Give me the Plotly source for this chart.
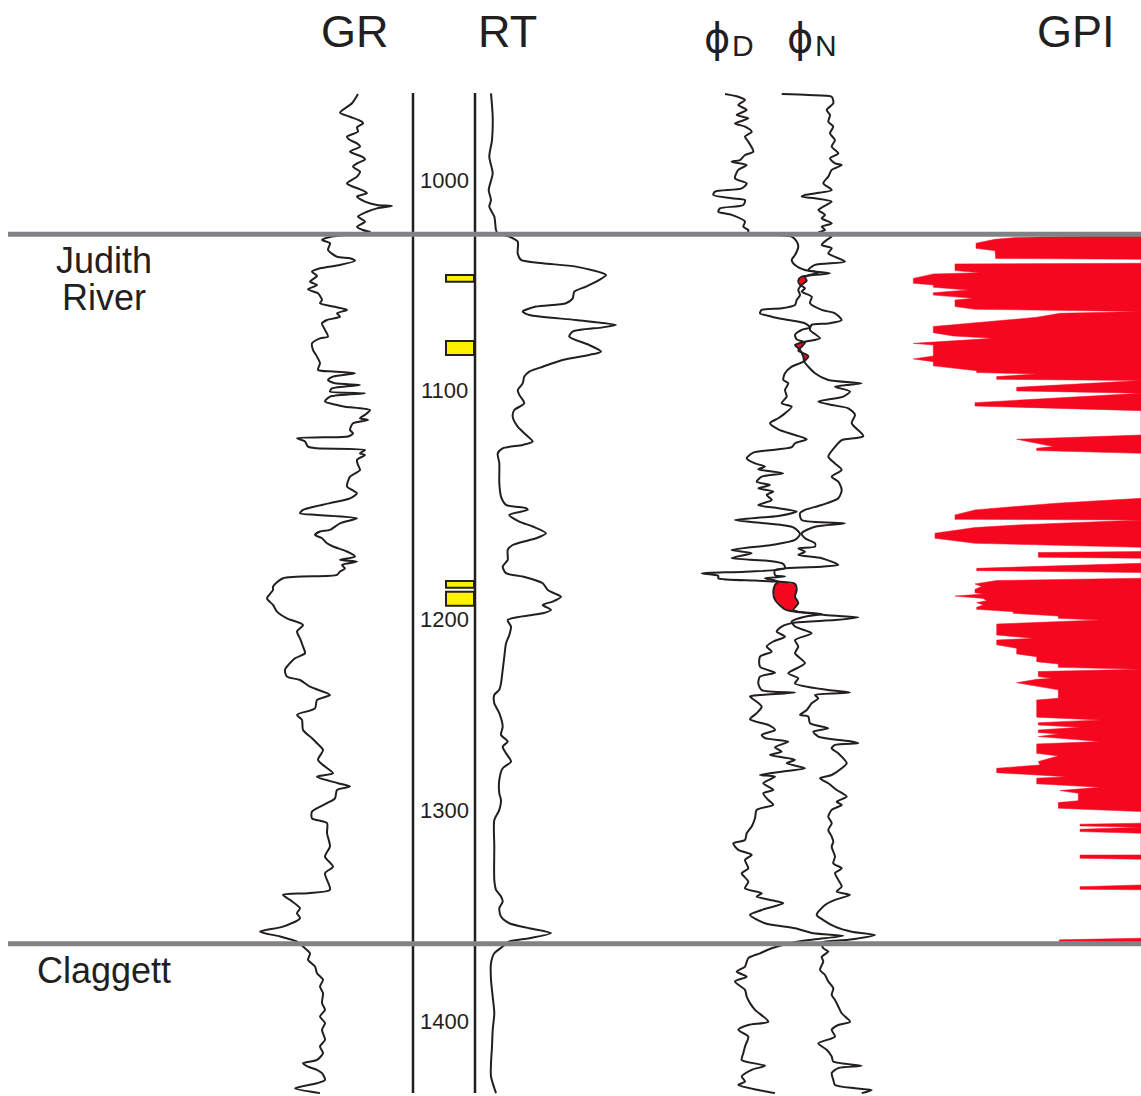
import numpy as np
import plotly.graph_objects as go

# ---------------- DATA ----------------
gr_depth = [959.1,963.5,968.0,969.9,972.3,973.1,975.0,977.0,979.4,981.0,982.6,984.1,986.5,988.9,990.2,992.1,993.7,996.0,998.4,1001.6,1003.2,1004.8,1006.3,1007.9,1010.3,1011.9,1012.4,1013.5,1015.1,1017.4,1019.8,1022.2,1023.8,1024.6,
 1026.9,1028.5,1030.1,1033.3,1036.5,1037.2,1038.4,1040.4,1042.0,1043.6,
 1045.6,1048.3,1049.9,1052.0,1053.9,1057.1,1058.6,1060.2,1061.8,1063.4,
 1065.0,1066.6,1068.2,1071.3,1074.5,1075.3,1077.7,1080.8,1084.0,1087.2,
 1090.3,1091.1,1091.9,1093.5,1095.1,1096.7,1097.5,1099.1,1100.6,1101.4,
 1103.0,1105.4,1107.0,1107.8,1109.4,1111.7,1113.3,1114.1,1115.7,1118.9,
 1120.5,1122.0,1122.4,1122.8,1124.4,1126.8,1127.6,1128.4,1130.0,1130.8,
 1133.1,1135.5,1137.9,1141.1,1145.8,1147.4,1149.0,1151.4,1153.7,1156.9,
 1158.5,1159.3,1160.9,1163.3,1166.4,1167.2,1168.8,1170.4,1172.8,1174.3,
 1176.7,1179.1,1180.7,1181.5,1183.1,1184.7,1186.2,1187.8,1189.4,1193.4,
 1195.0,1199.0,1202.1,1205.3,1208.5,1211.6,1214.8,1218.0,1221.9,1225.1,
 1227.5,1233.0,1236.2,1237.8,1241.0,1244.9,1247.3,1251.3,1254.4,1256.8,
 1261.6,1265.5,1267.9,1271.1,1275.8,1279.0,1282.2,1283.8,1286.9,1288.5,
 1290.1,1294.1,1296.4,1300.4,1303.6,1305.9,1310.7,1317.0,1321.8,1326.6,
 1329.7,1337.6,1339.2,1340.0,1342.4,1346.4,1348.7,1351.1,1355.1,1357.5,
 1359.8,1362.2,1364.6,1367.8,1370.9,1374.1,1377.3,1380.4,1383.6,1386.8,
 1391.5,1394.7,1397.9,1401.0,1404.2,1409.0,1412.1,1415.3,1418.5,1420.1,
 1421.7,1423.2,1424.8,1428.0,1429.6,1432.0,1434.3]
gr_api = [108,102,90,100,112,113,107,108,97,100,107,110,100,112,115,107,103,110,107,97,103,112,117,107,115,127,142,127,117,108,115,107,113,120,
 82,72,80,78,87,100,105,90,70,62,
 67,60,67,58,68,72,70,83,97,87,
 90,77,72,75,78,70,62,63,67,70,
 68,83,105,83,78,85,110,82,80,115,
 80,75,87,95,120,115,110,118,103,100,
 103,98,73,47,55,58,67,115,110,115,
 107,108,110,100,97,102,107,100,80,53,
 50,67,107,90,80,70,65,72,77,83,
 97,105,90,107,92,95,90,87,33,23,
 23,17,23,27,37,53,47,50,53,55,
 45,35,37,50,60,80,67,65,47,52,
 53,62,67,73,68,75,83,67,88,100,
 87,85,77,62,62,77,77,80,75,83,
 75,80,58,33,40,50,47,50,33,10,
 30,47,53,60,58,65,67,73,70,73,
 72,75,70,75,72,75,70,73,67,53,
 58,67,72,75,67,45,70]

rt_depth = [958.8,969.9,981.0,988.9,996.8,1004.8,1009.5,1012.7,1017.4,1023.8,
 1025.4,1026.9,1029.3,1034.9,1038.0,1039.6,1041.2,1045.2,1047.5,1050.7,
 1053.1,1056.3,1058.6,1060.2,1062.6,1064.2,1066.6,1068.9,1070.1,1072.1,
 1074.5,1078.5,1081.6,1083.2,1085.6,1088.8,1091.1,1093.5,1096.7,1099.9,
 1102.2,1106.2,1109.4,1112.5,1117.3,1121.2,1124.4,1126.0,1127.6,1130.0,
 1134.7,1144.2,1150.6,1154.5,1156.1,1156.9,1159.3,1162.5,1164.8,1168.0,
 1170.4,1173.6,1175.9,1180.7,1183.9,1187.0,1188.6,1191.8,1195.0,1196.6,
 1198.2,1200.5,1202.1,1204.5,1206.1,1209.3,1212.4,1216.4,1220.4,1226.7,
 1233.0,1239.4,1242.5,1244.9,1248.9,1253.6,1260.0,1263.9,1267.1,1269.5,
 1272.7,1276.6,1279.8,1285.3,1291.7,1294.9,1299.6,1304.4,1317.0,1332.9,
 1337.6,1340.8,1343.2,1346.4,1350.3,1353.5,1355.9,1358.2,1360.6,1362.2,
 1364.6,1367.8,1372.5,1380.4,1388.4,1396.3,1404.2,1412.1,1420.1,1426.4,
 1434.3]
rt_ohm = [15,16.7,16,13.3,16.7,12.7,15,13.3,18.3,20,
 21.7,33.3,41.7,41.7,45,66.7,100,130,123.3,110,
 98.3,96.7,90,60,46.7,53.3,100,140,126.7,96.7,
 93.3,113.3,125,113.3,86.7,66.7,53.3,48.3,46.7,41.7,
 43.3,48.3,38.3,36.7,41.7,50,56.7,46.7,26.7,21.7,
 23.3,23.3,25,30,50,51.7,33.3,43.3,56.7,70,
 60,36.7,31.7,31.7,26.7,30,46.7,66.7,71.7,78.3,
 85,76.7,66.7,75,66.7,31.7,35,33.3,30,28.3,
 26.7,25,23.3,18.3,18.3,23.3,26.7,25,31.7,26.7,
 30,35,26.7,23.3,23.3,25,23.3,18.3,18.3,18.3,
 20,25,26.7,23.3,25,33.3,53.3,75,53.3,33.3,
 26.7,18.3,15,15,16.7,18.3,16.7,16,15,15,
 20]

phid_depth = [959.1,960.4,962.0,964.3,966.7,969.1,970.7,973.1,974.6,977.0,
 979.4,981.8,986.5,988.1,990.5,991.3,992.9,995.2,999.2,1001.6,
 1004.0,1005.5,1007.1,1008.7,1009.5,1011.9,1013.5,1015.1,1016.6,1019.8,
 1022.2,1023.8,1025.0,
 1026.9,1029.3,1031.7,1035.7,1038.0,1040.4,1042.8,1044.1,1046.0,1047.9,
 1049.9,1052.3,1054.7,1057.1,1059.4,1061.0,1061.8,1063.4,1065.0,1066.6,
 1068.2,1070.1,1071.3,1073.7,1075.8,1077.3,1079.2,1081.1,1083.7,1086.4,
 1088.8,1091.9,1095.1,1096.7,1099.9,1103.0,1106.2,1107.8,1111.0,1113.3,
 1115.7,1118.6,1121.3,1123.3,1125.2,1127.1,1129.7,1132.4,1134.8,1136.3,
 1137.6,1139.5,1141.1,1143.5,1145.1,1146.6,1148.2,1149.8,1152.2,1154.6,
 1156.1,1157.7,1159.8,1161.7,1163.3,1165.2,1168.4,1171.2,1173.6,1176.0,
 1177.5,1179.9,1181.0,1182.6,1184.7,1186.3,1187.1,1188.3,1189.4,1190.5,
 1191.0,1192.1,1195.0,1198.1,1201.3,1204.5,1206.9,1208.0,1209.3,1210.5,
 1212.4,1214.8,1217.2,1219.5,1221.9,1224.3,1226.7,
 1231.5,1234.3,1236.2,1239.4,1242.6,1243.8,1245.0,1245.7,1248.1,1250.5,
 1253.6,1256.5,1259.2,1261.6,1263.9,1265.5,1267.1,1269.8,1271.9,1273.5,
 1275.8,1277.4,1279.8,1281.4,1283.0,1283.8,1286.9,1290.1,1291.7,1294.9,
 1297.2,1299.6,1303.6,1307.5,1310.7,1313.9,1315.5,1318.6,1321.0,1323.4,
 1327.4,1329.7,1333.7,1336.9,1339.2,1340.8,1342.7,1344.0,1347.2,1349.5,
 1353.5,1355.9,1358.3,1359.5,1361.1,1362.2,1365.4,1367.8,1370.1,1374.1,
 1376.5,1378.9,1381.2,1385.2,1388.4,1391.5,1394.7,1400.3,1401.9,1404.2,
 1407.4,1412.1,1415.3,1418.5,1421.3,1423.2,1426.4,1428.8,1430.4,1432.8,
 1434.3]
phid = [30,43.3,50,43.3,51.7,41.7,53.3,40,50,56.7,
 50,53.3,58.3,50,45,36.7,51.7,43.3,40,51.7,
 46.7,20,18.3,36.7,50,48.3,25,23.3,36.7,50,
 48.3,53.3,53.3,
 96.7,101.7,103.3,100,96.7,100,110,123.3,110,111.7,
 106.7,103.3,105,101.7,100,86.7,66.7,65,76.7,93.3,
 110,115,106.7,100,101.7,110,106.7,103.3,113.3,108.3,
 96.7,90,88.3,93.3,90,91.7,86.7,96.7,90,83.3,
 75,83.3,100,111.7,100,96.7,58.3,51.7,60,70,
 63.3,88.3,66.7,61.7,75,63.3,78.3,71.7,76.7,63.3,
 83.3,101.7,83.3,40,70,98.3,105,100,76.7,36.7,
 56.7,36.7,70,88.3,90,50,6.7,23.3,23.3,60,
 81.7,100,101.7,100,103.3,98.3,130,163.3,140,100,
 86.7,81.7,90,78.3,71.7,76.7,65,
 65,80,65,63.3,66.7,100,65,55,61.7,66.7,
 61.7,55,73.3,80,66.7,70,93.3,80,86.7,75,
 100,91.7,110,86.7,65,80,68.3,78.3,68.3,73.3,
 78.3,61.7,60,56.7,51.7,50,38.3,43.3,56.7,50,
 53.3,46.7,53.3,50,66.7,61.7,78.3,88.3,66.7,55,
 70,100,118.3,148.3,120,103.3,76.7,65,53.3,50,
 41.7,51.7,40,50,51.7,55,60,73.3,53.3,43.3,
 53.3,50,48.3,46.7,70,56.7,46.7,50,43.3,63.3,
 80]

phin_depth = [959.1,959.6,960.4,963.5,966.7,969.1,972.3,974.6,977.8,981.0,
 984.1,987.3,989.7,992.1,992.9,995.2,998.4,1001.6,1004.8,1007.1,
 1007.9,1008.7,1010.3,1012.7,1014.3,1016.6,1018.2,1020.6,1022.2,1023.8,
 1025.0,
 1026.9,1028.5,1030.9,1032.5,1034.9,1038.8,1040.4,1042.8,1044.4,1046.0,
 1047.9,1049.9,1051.5,1053.1,1055.5,1058.6,1061.8,1063.4,1066.6,1068.2,
 1068.9,1071.3,1075.3,1076.9,1078.5,1080.8,1084.0,1086.4,1091.9,1095.1,
 1096.7,1098.3,1100.6,1103.0,1105.4,1107.0,1108.6,1111.7,
 1115.7,1121.8,1123.7,1126.0,1131.6,1134.8,1137.9,1141.1,1143.5,1147.4,
 1151.4,1154.6,1156.9,1158.5,1161.7,1163.3,1164.9,1168.0,1170.4,1172.8,
 1174.4,1175.2,1176.8,1178.3,1179.9,1183.1,1183.9,1185.5,1187.9,1188.6,
 1189.4,1191.0,1192.6,1195.8,1199.7,1204.2,1205.3,1206.4,1207.7,1210.0,
 1212.4,1215.6,1218.8,1221.9,1225.1,1229.8,
 1234.6,1237.0,1239.4,1242.6,1243.8,1245.0,1246.5,1248.9,1252.1,1254.4,
 1255.2,1258.4,1260.8,1262.4,1264.7,1267.1,1267.9,1268.7,1270.3,1272.7,
 1277.4,1279.8,1283.0,1284.6,1286.9,1290.1,1293.3,1295.7,1297.2,1299.6,
 1302.8,1305.9,1309.1,1312.3,1314.7,1317.1,1321.8,1325.0,1327.4,1329.7,
 1332.9,1336.1,1338.4,1340.0,1342.4,1344.8,1349.5,1352.0,1355.1,1357.5,
 1359.1,1361.4,1362.7,1365.4,1367.0,1369.4,1371.7,1375.7,1378.1,1381.2,
 1384.4,1387.6,1390.0,1393.1,1396.3,1400.3,1401.9,1404.2,1407.4,1410.6,
 1413.7,1416.9,1419.3,1421.3,1422.4,1424.8,1428.0,1430.4,1432.0,1432.8,
 1434.3]
phin = [86.7,113.3,136.7,138.3,131.7,135,133.3,138.3,135,140,
 136.7,143.3,135,140,146.7,136.7,133.3,128.3,136.7,110,
 106.7,120,136.7,128.3,123.3,130,126.7,136.7,126.7,130,
 123.3,
 136.7,131.7,126.7,136.7,133.3,150,120,113.3,135,106.7,
 103.3,105,110,106.7,116.7,115,126.7,140,146.7,133.3,
 116.7,115,125,110,100,105,108.3,109.3,120,133.3,
 166.7,140,155,148.3,123.3,136.7,153.3,160,
 156.7,168.3,146.7,141.7,133.3,140,146.7,136.7,143.3,146.7,
 143.3,126.7,110,105,106.7,150,120,106.7,110,120,
 120,103.3,110,103.3,126.7,143.3,126.7,80,80,90,
 70,83.3,80,78.3,80,90,100,126.7,110,96.7,
 100,116.7,100,103.3,100,110,
 93.3,103.3,100,133.3,155,120,123.3,116.7,111.7,105,
 113.3,115,133.3,118.3,123.3,156.7,163.3,140,136.7,143.3,
 151.7,146.7,136.7,125,133.3,141.7,151.7,141.7,146.7,136.7,
 133.3,136.7,133.3,136.7,138.3,136.7,140,138.3,146.7,140,
 143.3,146.7,141.7,155,140,130,121.7,128.3,140,156.7,
 180,153.3,126.7,128.3,133.3,126.7,128.3,125,130,133.3,
 138.3,136.7,140,143.3,146.7,155,143.3,136.7,140,123.3,
 131.7,136.7,138.3,166.7,143.3,136.7,138.3,140,160,176.7,
 166.7]

# gas-effect (crossover) intervals, ft
gas_top = [1045.5, 1077.5, 1190.5]
gas_base = [1051.5, 1087.0, 1206.0]

gpi_depth = [1026.2,1027.3,1028.2,1030.1,1032.5,1033.6,1037.3,1037.7,1039.6,1039.9,
 1043.1,1044.1,1044.7,1046.8,1049.1,1049.9,1051.0,1052.3,1053.6,1054.7,
 1056.3,1057.1,1060.2,1061.5,1062.5,1063.4,1065.3,1068.6,1069.7,1072.6,
 1074.2,1075.3,1077.7,1078.5,1083.7,1085.1,1086.4,1088.4,1089.6,1090.7,
 1091.6,1092.3,1093.5,1094.8,1095.4,1098.6,1100.3,1101.4,1105.9,1107.5,
 1109.7,1121.3,1123.3,1125.2,1126.8,1127.6,1128.7,1130.0,1151.4,1153.7,
 1156.9,1159.3,1161.4,1161.7,1164.1,1165.3,1168.0,1170.4,1172.8,1174.7,
 1176.7,1177.2,1179.4,1179.9,1182.3,1184.7,1185.8,1186.7,1189.4,1190.5,
 1192.1,1193.4,1194.7,1196.3,1196.9,1197.9,1199.0,1200.1,1201.0,1202.1,
 1203.2,1204.2,1205.3,1206.1,1207.4,1208.5,1209.3,1211.2,1216.4,1218.0,
 1218.8,1221.1,1222.7,1225.4,1226.7,1229.1,1230.2,1231.8,1232.7,1233.8,
 1236.2,1237.0,1237.5,1239.1,1242.5,1246.5,1247.3,1255.5,1256.8,1258.1,
 1259.2,1260.3,1261.6,1262.8,1263.5,1264.7,1267.1,1268.2,1272.7,1273.9,
 1276.6,1278.2,1279.8,1281.9,1283.8,1284.5,1287.2,1288.8,1290.4,1291.7,
 1295.2,1296.1,1298.8,1300.4,1305.9,1306.4,1307.2,1307.8,1308.8,1309.9,
 1310.7,1321.0,1321.1,1322.6,1323.1,1335.3,1336.1,1337.3,1337.6,1360.6,
 1361.4,1362.2,1362.4]
gpi = [0,124.3,146,165,165,146,145.3,0,0,186,
 186,161,207.7,227.7,227.7,207.7,207.7,172.7,207.7,207.7,
 167.7,186,186,166,0,81,104.3,187.7,207.7,207.7,
 187.7,147.7,227.7,207.7,207.7,227.7,207.7,207.7,187.7,164.3,
 164.3,104.3,144.3,144.3,0,124.3,124.3,0,166,166,
 0,0,124.3,104.3,87.7,104.3,104.3,0,0,84.3,
 166,186,186,0,124.3,166,206,206,166,0,
 0,102.7,102.7,0,0,164.3,164.3,0,0,144.3,
 166,159.3,166,166,157.7,186,157.7,154.3,164.3,157.7,
 164.3,164.3,127.7,127.7,82.7,82.7,41,144.3,144.3,107.7,
 144.3,144.3,124.3,124.3,104.3,104.3,82.7,82.7,0,102.7,
 102.7,89.3,104.3,124.3,82.7,82.7,104.3,104.3,41,102.7,
 102.7,61,102.7,102.7,82.7,102.7,41,104.3,104.3,82.7,
 102.7,101,144.3,144.3,74.3,104.3,104.3,41,81,62.7,
 62.7,82.7,82.7,0,0,61,61,0,61,61,
 0,0,61,61,0,0,61,61,0,0,
 81.7,81.7,0]

depth_ticks = [1000, 1100, 1200, 1300, 1400]
formation_names = ["Judith River", "Claggett"]
formation_tops = [1025.8, 1363.3]
sample_top = [1045.2, 1076.6, 1190.7, 1195.8]
sample_base = [1048.4, 1083.2, 1193.9, 1202.5]

# ---------------- FIGURE ----------------
W, H = 1141, 1096
INK = "#231F20"
RED = "#F5081F"
px = lambda v: v / W
py = lambda v: 1 - v / H

fig = go.Figure()
line = dict(color=INK, width=2, shape="spline", smoothing=0.7)
fig.add_trace(go.Scatter(x=gr_api, y=gr_depth, mode="lines", line=line, xaxis="x", yaxis="y"))
fig.add_trace(go.Scatter(x=rt_ohm, y=rt_depth, mode="lines", line=line, xaxis="x2", yaxis="y"))

# gas crossover fills (phiD to the right of phiN)
for z0, z1 in zip(gas_top, gas_base):
    g = np.linspace(z0, z1, 300)
    d = np.interp(g, phid_depth, phid)
    n = np.interp(g, phin_depth, phin)
    right = np.maximum(d, n)
    fig.add_trace(go.Scatter(x=np.concatenate([right, n[::-1]]), y=np.concatenate([g, g[::-1]]),
                             mode="lines", fill="toself", fillcolor=RED, line=dict(width=0, color=RED),
                             xaxis="x3", yaxis="y"))
fig.add_trace(go.Scatter(x=phid, y=phid_depth, mode="lines", line=line, xaxis="x3", yaxis="y"))
fig.add_trace(go.Scatter(x=phin, y=phin_depth, mode="lines", line=line, xaxis="x3", yaxis="y"))
fig.add_trace(go.Scatter(x=gpi, y=gpi_depth, mode="lines", fill="tozerox", fillcolor=RED,
                         line=dict(width=0.5, color=RED), xaxis="x4", yaxis="y"))

hidden = dict(visible=False, showgrid=False, zeroline=False, fixedrange=True)
fig.update_layout(
    width=W, height=H, margin=dict(l=0, r=0, t=0, b=0),
    paper_bgcolor="white", plot_bgcolor="white", showlegend=False,
    yaxis=dict(range=[1435.67, 914.39], **hidden),
    xaxis=dict(domain=[px(250), px(410)], range=[0, 160], anchor="y", **hidden),
    xaxis2=dict(domain=[px(476), px(626)], range=[0, 150], anchor="y", **hidden),
    xaxis3=dict(domain=[px(695), px(885)], range=[0, 190], anchor="y", **hidden),
    xaxis4=dict(domain=[px(900), 1.0], range=[241, 0], anchor="y", **hidden),
)

shapes = []
for t, b in zip(sample_top, sample_base):
    shapes.append(dict(type="rect", xref="paper", yref="y", x0=px(446), x1=px(474), y0=t, y1=b,
                       fillcolor="#FFF200", line=dict(color=INK, width=2)))
for xv in (413, 475):
    shapes.append(dict(type="line", xref="paper", yref="y", x0=px(xv), x1=px(xv), y0=958.6, y1=1434.2,
                       line=dict(color=INK, width=2.5)))
for d in formation_tops:
    shapes.append(dict(type="line", xref="paper", yref="y", x0=px(8), x1=1, y0=d, y1=d,
                       line=dict(color="#808285", width=5)))
fig.update_layout(shapes=shapes)

FONT = "Liberation Sans, Arial, Helvetica, sans-serif"
C = dict(xanchor="center", yanchor="middle", showarrow=False)
ann = []
for t, xc in (("GR", 355), ("RT", 507), ("GPI", 1076)):
    ann.append(dict(text=t, x=px(xc), y=py(31), xref="paper", yref="paper",
                    font=dict(family=FONT, size=45, color=INK), **C))
for sym, xc in (("D", 743), ("N", 826)):
    ann.append(dict(text="ϕ", x=px(xc - 26), y=py(38), xref="paper", yref="paper",
                    font=dict(family="DejaVu Sans", size=40, color=INK), **C))
    ann.append(dict(text=sym, x=px(xc), y=py(46), xref="paper", yref="paper",
                    font=dict(family=FONT, size=30, color=INK), **C))
for d in depth_ticks:
    ann.append(dict(text=str(d), x=px(444), y=d, xref="paper", yref="y",
                    yshift=-19 if d == 1200 else 0, font=dict(family=FONT, size=22, color=INK), **C))
name_lines = {"Judith River": [("Judith", -26), ("River", -63)], "Claggett": [("Claggett", -27)]}
for nm, d in zip(formation_names, formation_tops):
    for txt, sh in name_lines[nm]:
        ann.append(dict(text=txt, x=px(104), y=d, xref="paper", yref="y", yshift=sh,
                        font=dict(family=FONT, size=36, color=INK), **C))
fig.update_layout(annotations=ann)

fig.write_html("out.html")
